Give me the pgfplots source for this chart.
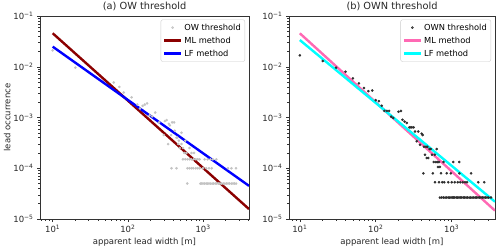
\documentclass[border=0pt]{standalone}
\usepackage{fontspec}
\setmainfont{DejaVu Sans}
\usepackage{pgfplots}
\pgfplotsset{compat=1.18}
\definecolor{ptgray}{RGB}{195,195,195}
\definecolor{ptdark}{RGB}{45,45,45}
\definecolor{mldark}{RGB}{139,0,0}
\definecolor{lfblue}{RGB}{0,0,255}
\definecolor{mlpink}{RGB}{255,105,180}
\definecolor{lfcyan}{RGB}{0,255,255}
\pgfplotsset{
  /pgfplots/myax/.style={
    scale only axis,
    height=203pt,
    ymin=1e-5, ymax=1e-1,
    axis line style={line width=0.6pt, black!80},
    tick pos=left,
    tick align=outside,
    major tick length=3pt,
    minor tick length=1.7pt,
    every tick/.style={black!80, line width=0.5pt},
    xtick={10,100,1000},
    xticklabels={10\textsuperscript{1},10\textsuperscript{2},10\textsuperscript{3}},
    minor xtick={7,8,9,20,30,40,50,60,70,80,90,200,300,400,500,600,700,800,900,2000,3000,4000},
    ytick={1e-5,1e-4,1e-3,1e-2,1e-1},
    yticklabels={10\textsuperscript{−5},10\textsuperscript{−4},10\textsuperscript{−3},10\textsuperscript{−2},10\textsuperscript{−1}},
    minor ytick={2e-5,3e-5,4e-5,5e-5,6e-5,7e-5,8e-5,9e-5,2e-4,3e-4,4e-4,5e-4,6e-4,7e-4,8e-4,9e-4,2e-3,3e-3,4e-3,5e-3,6e-3,7e-3,8e-3,9e-3,2e-2,3e-2,4e-2,5e-2,6e-2,7e-2,8e-2,9e-2},
    tick label style={font=\fontsize{8.5}{10}\selectfont, black!85},
    label style={font=\fontsize{8.5}{10}\selectfont, black!85},
    title style={font=\fontsize{9.8}{11}\selectfont, black!85, yshift=-4pt},
    xlabel={apparent lead width [m]},
    xlabel style={yshift=2pt},
    legend cell align=left,
    legend style={at={(1,1)}, xshift=-4pt, yshift=-3.5pt, anchor=north east,
      draw=black!20, rounded corners=2pt, fill=white, fill opacity=0.8, text opacity=1,
      font=\fontsize{8.3}{9.8}\selectfont, row sep=1.2pt, inner xsep=2pt, inner ysep=2pt},
  }
}
\begin{document}
\begin{tikzpicture}[x=1pt,y=1pt]
\useasboundingbox (0,0) rectangle (500,250);
\begin{loglogaxis}[myax, at={(40pt,31pt)}, anchor=south west, width=209pt,
  xmin=6.78, xmax=4083,
  title={(a) OW threshold},
  ylabel={lead occurrence}, ylabel style={yshift=-4pt}]
\addplot[only marks, mark=*, mark size=1.1pt, color=ptgray] coordinates {
(10,0.021) (20,0.0096) (65,0.0049) (77,0.0040) (88,0.0031) (112,0.0025)
(133,0.0018) (145,0.0015) (157,0.0017) (168,0.0018) (180,0.0019) (195,0.0011)
(210,0.00105) (231,0.00125) (260,0.0008) (300,0.00045) (310,0.00085) (327,0.00089)
(343,0.0003) (350,0.00075) (361,0.0007) (375,0.00045) (381,0.0001) (388,0.0008)
(412,0.0008) (420,0.00055) (443,0.0004) (443,0.0001) (455,0.0004) (468,0.0003)
(476,0.00035) (490,0.00025) (516,0.0005) (516,0.0003) (540,0.00025) (540,0.00015)
(560,0.0002) (580,0.00035) (580,0.00015) (600,0.0002) (616,0.00005) (620,0.00015)
(620,0.0001) (660,0.00015) (660,0.0001) (660,0.00025) (700,0.0002) (700,0.00015)
(700,0.0001) (740,0.0001) (750,0.00015) (760,0.0002) (800,0.0001) (800,0.00015)
(850,0.0001) (850,0.00015) (900,0.00015) (900,0.0001) (920,0.00005) (960,0.00005)
(1000,0.0001) (1000,0.00005) (1050,0.00015) (1050,0.00005) (1100,0.0001) (1100,0.00005)
(1150,0.00015) (1150,0.00005) (1200,0.0001) (1200,0.00005) (1250,0.00015) (1260,0.00005)
(1300,0.0001) (1320,0.00005) (1350,0.00015) (1380,0.00005) (1450,0.00005) (1500,0.00015)
(1520,0.00005) (1600,0.00005) (1680,0.00005) (1760,0.00005) (1850,0.00005) (1950,0.00005)
(2050,0.00005) (2140,0.0001) (2150,0.00005) (2250,0.00005) (2380,0.0001) (2380,0.00005)
(2500,0.00005) (2620,0.00005) (2750,0.0001) (2750,0.00005)
};
\addlegendentry{OW threshold}
\addplot[mldark, line width=2.4pt] coordinates {(10,0.0457) (4083,1.57e-5)};
\addlegendentry{ML method}
\addplot[lfblue, line width=2.4pt] coordinates {(10,0.0249) (4083,4.5e-5)};
\addlegendentry{LF method}
\end{loglogaxis}
\begin{loglogaxis}[myax, at={(289pt,31pt)}, anchor=south west, width=206pt,
  xmin=7.2, xmax=3726,
  title={(b) OWN threshold}]
\addplot[only marks, mark=*, mark size=1.1pt, color=ptdark] coordinates {
(10,0.0168) (20,0.013) (30,0.0096) (40,0.008) (50,0.0059) (60,0.0047) (70,0.0038)
(80,0.0033) (90,0.0034) (100,0.0022) (110,0.0021) (120,0.0017) (130,0.00135)
(140,0.00135) (150,0.00135) (160,0.00104) (170,0.00098) (200,0.0013) (215,0.00135)
(225,0.0009) (240,0.00083) (257,0.00078) (277,0.00064) (290,0.00064) (300,0.00064)
(316,0.00064) (330,0.00053) (347,0.00034) (363,0.00053) (383,0.00029) (403,0.00048)
(416,0.00045) (424,0.0000795) (432,0.000265) (446,0.000185) (460,0.000265) (470,0.000159)
(479,0.000265) (492,0.000159) (510,0.000239) (530,0.000239) (550,0.000185) (565,0.0000795)
(580,0.0001325) (600,0.000185) (605,0.000053) (620,0.0001325) (635,0.000239) (650,0.0001325)
(660,0.000106) (680,0.0001325) (680,0.000053) (700,0.000106) (725,0.0000795) (750,0.000053)
(780,0.0001325) (800,0.000053) (861,0.0000795) (900,0.000053) (975,0.0000795) (1000,0.000053)
(1050,0.0001325) (1100,0.000053) (1200,0.000053) (1260,0.0001325) (1265,0.0000795)
(1300,0.000053) (1400,0.000053) (1500,0.000053) (1590,0.000053) (1803,0.0000795)
(2240,0.000053) (2680,0.000053)
(700,0.0000265) (740,0.0000265) (780,0.0000265) (820,0.0000265) (860,0.0000265)
(900,0.0000265) (940,0.0000265) (980,0.0000265) (1020,0.0000265) (1060,0.0000265)
(1100,0.0000265) (1150,0.0000265) (1200,0.0000265) (1250,0.0000265) (1300,0.0000265)
(1360,0.0000265) (1420,0.0000265) (1480,0.0000265) (1550,0.0000265) (1620,0.0000265)
(1700,0.0000265) (1780,0.0000265) (1860,0.0000265) (1950,0.0000265) (2040,0.0000265)
(2130,0.0000265) (2230,0.0000265) (2330,0.0000265) (2440,0.0000265) (2550,0.0000265)
(2670,0.0000265) (2800,0.0000265) (2930,0.0000265) (3070,0.0000265) (3300,0.0000265)
};
\addlegendentry{OWN threshold}
\addplot[mlpink, line width=2.4pt] coordinates {(10,0.0456) (3726,1.46e-5)};
\addlegendentry{ML method}
\addplot[lfcyan, line width=2.4pt] coordinates {(10,0.0336) (3726,2.19e-5)};
\addlegendentry{LF method}
\end{loglogaxis}
\end{tikzpicture}
\end{document}
